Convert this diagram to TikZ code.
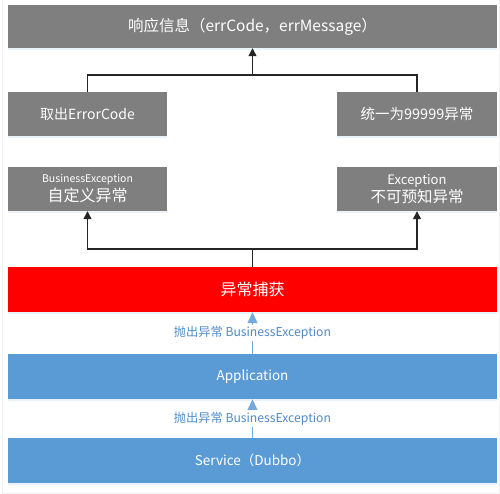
\documentclass[tikz,border=0pt]{standalone}
\usepackage{fontspec}
\setmainfont{Noto Sans CJK SC}
\usetikzlibrary{arrows.meta,shadows}
\definecolor{boxgray}{HTML}{7F7F7F}
\definecolor{boxblue}{HTML}{5B9BD5}
\definecolor{lblblue}{HTML}{4F8BC9}
\definecolor{linedark}{HTML}{262626}
\tikzset{
  base/.style={draw=none, inner sep=0pt, align=center, text=white,
    drop shadow={shadow xshift=0pt, shadow yshift=-2pt, opacity=0.35, fill=boxblue!35}},
  graybox/.style={base, fill=boxgray},
  redbox/.style={base, fill=red},
  bluebox/.style={base, fill=boxblue},
  blk/.style={draw=linedark, line width=1.3pt, -{Triangle[width=8pt,length=8pt]}},
  blkline/.style={draw=linedark, line width=1.3pt},
  blu/.style={draw=boxblue!85, line width=1.2pt, -{Triangle[width=10pt,length=11pt]}},
  lbl/.style={fill=white, text=lblblue, font=\fontsize{12.2}{14}\selectfont, inner sep=1.5pt}
}
\begin{document}
\begin{tikzpicture}[x=1pt,y=-1pt]
\useasboundingbox (0,0) rectangle (500,494);
\draw[gray!12, line width=1pt] (2,-1) -- (2,493) -- (499,493) -- (499,-1);

\node[graybox, minimum width=489pt, minimum height=43pt, font=\fontsize{15.5}{17}\selectfont] (top) at (252.5,26.5) {响应信息（errCode，errMessage）};

\node[graybox, minimum width=159pt, minimum height=44pt, font=\fontsize{14}{16}\selectfont] (ec) at (87.5,114) {取出ErrorCode};
\node[graybox, minimum width=160pt, minimum height=44pt, font=\fontsize{14.5}{16}\selectfont] (u9) at (417,114) {统一为99999异常};

\node[graybox, minimum width=159pt, minimum height=44pt] (be) at (87.5,189)
  {{\fontsize{10.5}{12}\selectfont BusinessException}\\[2pt]{\fontsize{16}{18}\selectfont 自定义异常}};
\node[graybox, minimum width=160pt, minimum height=44pt] (ex) at (417,189)
  {{\fontsize{13}{14}\selectfont Exception}\\[1pt]{\fontsize{15.5}{17}\selectfont 不可预知异常}};

\node[redbox, minimum width=489pt, minimum height=45pt, font=\fontsize{16}{18}\selectfont] (catch) at (252.5,289.5) {异常捕获};
\node[bluebox, minimum width=489pt, minimum height=45pt, font=\fontsize{13.5}{15}\selectfont] (app) at (252.5,376.5) {Application};
\node[bluebox, minimum width=489pt, minimum height=45pt, font=\fontsize{13.5}{15}\selectfont] (svc) at (252.5,460.5) {Service（Dubbo）};

\coordinate (j1) at (252.5,75);
\coordinate (j2) at (252.5,249);

\draw[blkline] (ec.north) |- (j1) -| (u9.north);
\draw[blk] (j1) -- (top.south);
\draw[blkline] (catch.north) -- (j2);
\draw[blk] (j2) -| (be.south);
\draw[blk] (j2) -| (ex.south);

\draw[blu] (app.north) -- node[lbl] {抛出异常 BusinessException} (catch.south);
\draw[blu] (svc.north) -- node[lbl] {抛出异常 BusinessException} (app.south);
\end{tikzpicture}
\end{document}
